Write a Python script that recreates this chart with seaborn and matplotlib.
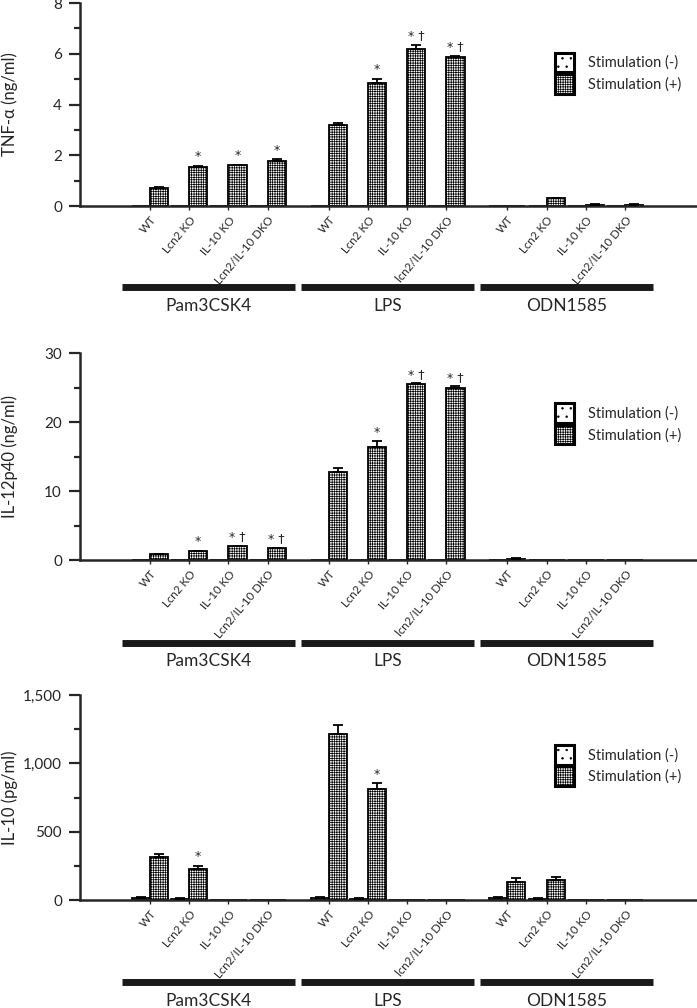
import numpy as np
import pandas as pd
import matplotlib
matplotlib.use("Agg")
import matplotlib.pyplot as plt
import seaborn as sns
from matplotlib.patches import Patch
from matplotlib import transforms, ticker

# ---- data ----
groups = ["Pam3CSK4", "LPS", "ODN1585"]
genotypes = ["WT", "Lcn2 KO", "IL-10 KO", "Lcn2/IL-10 DKO"]
tick_labels = (genotypes
               + ["WT", "Lcn2 KO", "IL-10 KO", "lcn2/IL-10 DKO"]
               + genotypes)
stim_levels = ["Stimulation (-)", "Stimulation (+)"]

tnf_neg = [0, 0, 0, 0, 0, 0, 0, 0, 0, 0, 0, 0]
tnf_neg_err = [0, 0, 0, 0, 0, 0, 0, 0, 0, 0, 0, 0]
tnf_pos = [0.72, 1.52, 1.61, 1.76, 3.21, 4.83, 6.18, 5.88, 0.0, 0.31, 0.06, 0.06]
tnf_pos_err = [0.03, 0.05, 0.02, 0.08, 0.08, 0.17, 0.17, 0.04, 0, 0.02, 0.01, 0.01]
tnf_sig = ["", "*", "*", "*", "", "*", "* †", "* †", "", "", "", ""]

il12_neg = [0, 0, 0, 0, 0, 0, 0, 0, 0, 0, 0, 0]
il12_neg_err = [0, 0, 0, 0, 0, 0, 0, 0, 0, 0, 0, 0]
il12_pos = [0.87, 1.26, 1.99, 1.70, 12.8, 16.4, 25.5, 24.9, 0.2, 0.05, 0.05, 0.05]
il12_pos_err = [0.05, 0.1, 0.1, 0.1, 0.48, 0.8, 0.1, 0.25, 0.1, 0, 0, 0]
il12_sig = ["", "*", "* †", "* †", "", "*", "* †", "* †", "", "", "", ""]

il10_neg = [15, 10, 0, 0, 15, 10, 0, 0, 18, 10, 0, 0]
il10_neg_err = [5, 4, 0, 0, 6, 4, 0, 0, 5, 4, 0, 0]
il10_pos = [312, 227, 0, 0, 1214, 810, 0, 0, 134, 148, 0, 0]
il10_pos_err = [24, 23, 0, 0, 66, 43, 0, 0, 29, 22, 0, 0]
il10_sig = ["", "*", "", "", "", "*", "", "", "", "", "", ""]

GROUP_STEP = 4.55
HATCH = {"Stimulation (-)": "..", "Stimulation (+)": "+++++++"}

sns.set_style("ticks")
plt.rcParams["font.family"] = ["Lato", "DejaVu Sans"]
plt.rcParams["hatch.linewidth"] = 0.5

positions = np.array([g * GROUP_STEP + i for g in range(3) for i in range(4)])


def draw_panel(ax, neg, neg_err, pos, pos_err, sig, ymax, ystep, ylabel, fmt):
    df = pd.DataFrame({
        "x": np.concatenate([positions, positions]),
        "value": neg + pos,
        "err": neg_err + pos_err,
        "sig": [""] * 12 + sig,
        "stim": [stim_levels[0]] * 12 + [stim_levels[1]] * 12,
    })
    sns.barplot(data=df, x="x", y="value", hue="stim", hue_order=stim_levels,
                native_scale=True, width=0.92, errorbar=None,
                palette=["white", "white"], edgecolor="black", linewidth=1.3,
                legend=False, ax=ax)

    for p in ax.patches:
        cx = p.get_x() + p.get_width() / 2
        k = np.argmin(np.abs(positions - cx))
        stim = stim_levels[1] if cx > positions[k] else stim_levels[0]
        p.set_hatch(HATCH[stim])
        row = df[(df["stim"] == stim)].iloc[k]
        h = row["value"]
        if row["err"] > 0:
            ax.errorbar(cx, h, yerr=[[0], [row["err"]]], fmt="none",
                        ecolor="black", elinewidth=1.3, capsize=3.5,
                        capthick=1.3, zorder=3)
        if row["sig"]:
            ax.annotate(row["sig"], (cx, h + row["err"]), xytext=(0, 2),
                        textcoords="offset points", ha="center", va="bottom",
                        fontsize=9, family=["DejaVu Sans"])

    ax.set_xlim(-1.78, 2 * GROUP_STEP + 3 + 1.83)
    ax.set_ylim(0, ymax)
    ax.set_xticks(positions)
    ax.set_xticklabels(tick_labels, rotation=50, ha="right", va="top",
                       rotation_mode="anchor", fontsize=8.3)
    ax.yaxis.set_major_locator(ticker.MultipleLocator(ystep))
    ax.yaxis.set_minor_locator(ticker.MultipleLocator(ystep / 2))
    ax.yaxis.set_major_formatter(fmt)
    ax.tick_params(axis="y", which="major", length=8, width=1.6, labelsize=11, pad=5)
    ax.tick_params(axis="y", which="minor", length=4, width=1.6)
    ax.tick_params(axis="x", length=3, width=1, pad=3)
    ax.set_xlabel("")
    ax.set_ylabel(ylabel, fontsize=12, va="center")
    ax.yaxis.set_label_coords(-0.114, 0.5)
    sns.despine(ax=ax)
    for s in ["left", "bottom"]:
        ax.spines[s].set_linewidth(1.8)

    trans = transforms.blended_transform_factory(ax.transData, ax.transAxes)
    for g, name in enumerate(groups):
        c = g * GROUP_STEP + 1.5
        ax.plot([c - 2.2, c + 2.2], [-0.40, -0.40], color="#1a1a1a", lw=5,
                solid_capstyle="butt", transform=trans, clip_on=False)
        ax.text(c, -0.49, name, ha="center", va="center", fontsize=12.5,
                transform=trans)

    handles = [Patch(facecolor="white", edgecolor="black", hatch=HATCH[s],
                     linewidth=2.2) for s in stim_levels]
    ax.legend(handles, stim_levels, loc="upper left", bbox_to_anchor=(0.76, 0.785),
              frameon=False, fontsize=10.5, handlelength=1.3, handleheight=1.7,
              handletextpad=0.95, labelspacing=0.12, borderaxespad=0)


fig = plt.figure(figsize=(6.97, 10.08), dpi=100)
ax1 = fig.add_axes([0.1148, 0.7956, 0.8852, 0.2014])
ax2 = fig.add_axes([0.1148, 0.4444, 0.8852, 0.2054])
ax3 = fig.add_axes([0.1148, 0.1071, 0.8852, 0.2034])

plain = ticker.StrMethodFormatter("{x:.0f}")
draw_panel(ax1, tnf_neg, tnf_neg_err, tnf_pos, tnf_pos_err, tnf_sig,
           8, 2, "TNF-α (ng/ml)", plain)
draw_panel(ax2, il12_neg, il12_neg_err, il12_pos, il12_pos_err, il12_sig,
           30, 10, "IL-12p40 (ng/ml)", plain)
draw_panel(ax3, il10_neg, il10_neg_err, il10_pos, il10_pos_err, il10_sig,
           1500, 500, "IL-10 (pg/ml)", ticker.StrMethodFormatter("{x:,.0f}"))

fig.savefig("out.png", dpi=100)
